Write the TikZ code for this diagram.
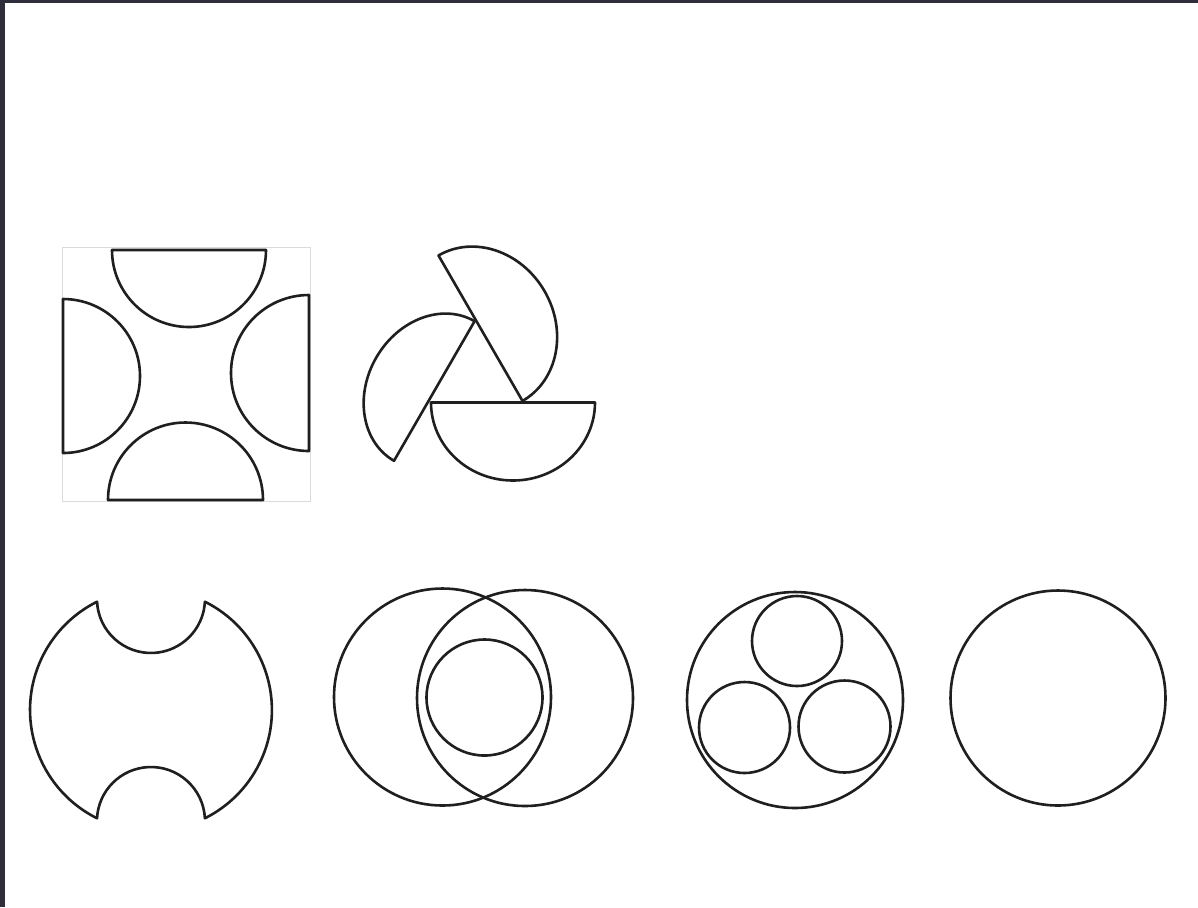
\documentclass[tikz,border=0pt]{standalone}
\begin{document}
\begin{tikzpicture}[x=0.5pt,y=-0.5pt,
  shape line/.style={draw=black!88,line width=1.3pt,line join=round},
  faint line/.style={draw=black!14,line width=0.5pt}]
\useasboundingbox (0,0) rectangle (1198,907);
\fill[white] (0,0) rectangle (1198,907);
% frame edges
\fill[fill={rgb,255:red,46;green,47;blue,58}] (0,0) rectangle (5,907);
\fill[fill={rgb,255:red,46;green,47;blue,58}] (0,0) rectangle (1198,3);

% ---- figure 1: square with four half discs
\draw[faint line] (62,247) rectangle (310,501);
\draw[shape line] (112,250) -- (266,250) arc[start angle=0,end angle=180,radius=77] -- cycle;
\draw[shape line] (108,500) -- (263,500) arc[start angle=0,end angle=-180,radius=77.5] -- cycle;
\draw[shape line] (63,299) -- (63,453) arc[start angle=90,end angle=-90,radius=77] -- cycle;
\draw[shape line] (309,295) -- (309,451) arc[start angle=90,end angle=270,radius=78] -- cycle;

% ---- figure 2: pinwheel of three half discs
\coordinate (pb) at (513,402.5);
\coordinate (pu) at (480.5,328.2);
\coordinate (pl) at (434.3,391);
\draw[shape line] (431,402.5) -- (595,402.5)
   arc[start angle=0,end angle=180,x radius=82,y radius=78] -- cycle;
\draw[shape line,rotate around={120:(pu)}] (396.5,328.2) -- (564.5,328.2)
   arc[start angle=0,end angle=180,x radius=84,y radius=74] -- cycle;
\draw[shape line,rotate around={-120:(pl)}] (353.7,391) -- (514.9,391)
   arc[start angle=0,end angle=180,x radius=80.6,y radius=67] -- cycle;

% ---- figure 3: disc with two notches
\draw[shape line] (204.9,601.7) arc[start angle=-63.5,end angle=63.5,radius=121]
   arc[start angle=-2.9,end angle=-177.1,radius=54]
   arc[start angle=116.5,end angle=243.5,radius=121]
   arc[start angle=177.1,end angle=2.9,radius=54] -- cycle;

% ---- figure 4: two overlapping circles with inner circle
\draw[shape line] (442.5,697) circle[radius=108.5];
\draw[shape line] (525,698) circle[radius=108];
\draw[shape line] (484.5,697.5) circle[radius=58];

% ---- figure 5: circle with three circles
\draw[shape line] (795,700) circle[radius=108];
\draw[shape line] (797,641) circle[radius=45];
\draw[shape line] (744.5,727.5) circle[radius=45.5];
\draw[shape line] (844.5,726.5) circle[radius=46];

% ---- figure 6: single circle
\draw[shape line] (1058,698) circle[radius=107.5];
\end{tikzpicture}
\end{document}
